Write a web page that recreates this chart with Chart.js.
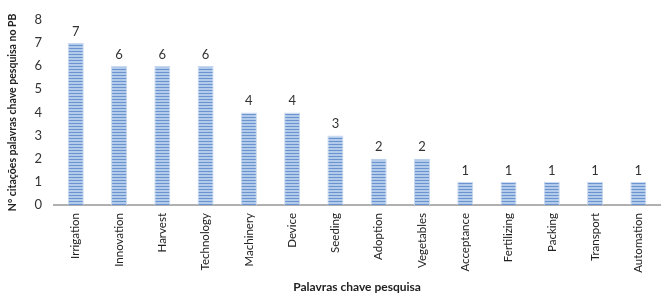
<!DOCTYPE html>
<html>
<head>
<meta charset="utf-8">
<script src="https://cdn.jsdelivr.net/npm/chart.js@4"></script>
<style>
  html, body { margin: 0; padding: 0; background: #fff; }
  #wrap { width: 662px; height: 293px; }
</style>
</head>
<body>
<div id="wrap"><canvas id="chart" width="662" height="293"></canvas></div>
<script>
var categories = ['Irrigation', 'Innovation', 'Harvest', 'Technology', 'Machinery', 'Device', 'Seeding',
    'Adoption', 'Vegetables', 'Acceptance', 'Fertilizing', 'Packing', 'Transport', 'Automation'];
var citations = [7, 6, 6, 6, 4, 4, 3, 2, 2, 1, 1, 1, 1, 1];
var yTicks = [0, 1, 2, 3, 4, 5, 6, 7, 8];
var xTitle = 'Palavras chave pesquisa';
var yTitle = 'N° citações palavras chave pesquisa no PB';

var fontFamily = 'Lato, "Open Sans", sans-serif';

// horizontal stripes like the original bar fill
var makeStripes = function() {
    var c = document.createElement('canvas');
    c.width = 4; c.height = 3;
    var g = c.getContext('2d');
    g.fillStyle = '#b3cbea';
    g.fillRect(0, 0, 4, 3);
    g.fillStyle = '#6a93cf';
    g.fillRect(0, 0, 4, 1);
    return g.createPattern(c, 'repeat');
};

var valueLabels = {
    id: 'valueLabels',
    afterDatasetsDraw: function(chart) {
        var ctx = chart.ctx;
        var meta = chart.getDatasetMeta(0);
        ctx.save();
        ctx.font = '13px ' + fontFamily;
        ctx.fillStyle = '#333';
        ctx.textAlign = 'center';
        ctx.textBaseline = 'bottom';
        meta.data.forEach(function(bar, i) {
            ctx.fillText(citations[i], bar.x, bar.y - 5);
        });
        // x axis title at the very bottom, like the original
        var area = chart.chartArea;
        ctx.font = 'bold 12px ' + fontFamily;
        ctx.fillStyle = '#222';
        ctx.textBaseline = 'middle';
        ctx.fillText(xTitle, (area.left + area.right) / 2, chart.scales.x.bottom - 6);
        ctx.restore();
    }
};

new Chart(document.getElementById('chart'), {
    type: 'bar',
    data: {
        labels: categories,
        datasets: [{
            data: citations,
            backgroundColor: makeStripes(),
            borderColor: '#c8d8ee',
            borderWidth: { left: 1, right: 1, top: 1, bottom: 0 },
            barPercentage: 0.37,
            categoryPercentage: 1
        }]
    },
    options: {
        responsive: false,
        animation: false,
        layout: { padding: { top: 12, right: 2, left: 6, bottom: 0 } },
        plugins: { legend: { display: false }, tooltip: { enabled: false } },
        scales: {
            x: {
                afterFit: function(scale) { scale.height = 88; },
                grid: { display: false, drawTicks: false },
                border: { color: '#b0b0b0', width: 2 },
                ticks: {
                    maxRotation: 90, minRotation: 90, padding: 8,
                    color: '#222', font: { family: fontFamily, size: 11.5 }
                },
                title: { display: false }
            },
            y: {
                min: 0, max: 8,
                afterBuildTicks: function(axis) {
                    axis.ticks = yTicks.map(function(v) { return { value: v }; });
                },
                grid: { display: false, drawTicks: false },
                border: { display: false },
                ticks: { padding: 12, color: '#333', font: { family: fontFamily, size: 13 } },
                title: {
                    display: true, text: yTitle, color: '#222',
                    font: { family: fontFamily, size: 10.5, weight: 'bold' },
                    padding: { top: 0, bottom: 4 }
                }
            }
        }
    },
    plugins: [valueLabels]
});
</script>
</body>
</html>
